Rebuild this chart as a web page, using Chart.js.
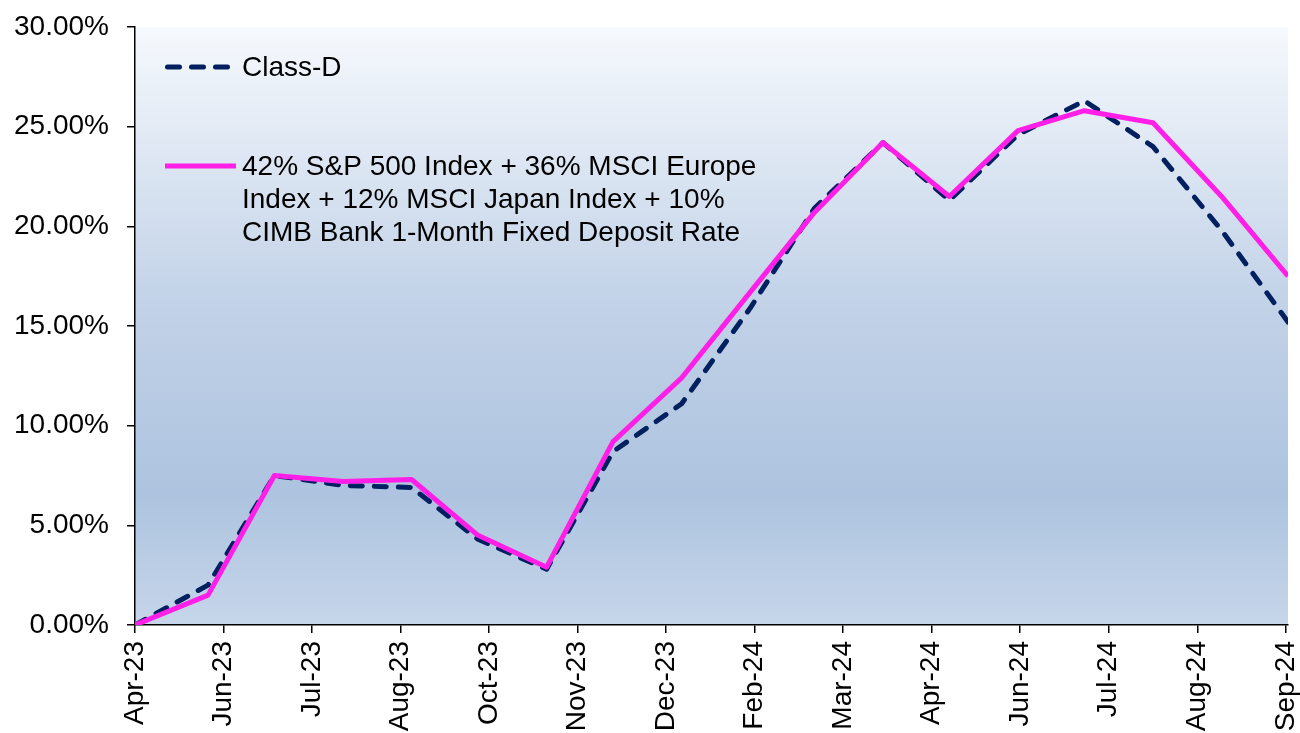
<!DOCTYPE html>
<html>
<head>
<meta charset="utf-8">
<script src="https://cdn.jsdelivr.net/npm/chart.js@4.4.1/dist/chart.umd.min.js"></script>
<style>
  html, body { margin: 0; padding: 0; background: #fff; }
  #wrap { width: 1300px; height: 733px; }
</style>
</head>
<body>
<div id="wrap"><canvas id="chart" width="1300" height="733"></canvas></div>
<script>
// month-end valuation dates
const dates = [
  '2023-04-28', '2023-05-31', '2023-06-30', '2023-07-31', '2023-08-31', '2023-09-30',
  '2023-10-31', '2023-11-30', '2023-12-31', '2024-01-31', '2024-02-29', '2024-03-31',
  '2024-04-30', '2024-05-31', '2024-06-30', '2024-07-31', '2024-08-31', '2024-09-30'
];

// cumulative return, %
const classD = [0, 2.0, 7.5, 7.0, 6.9, 4.3, 2.8, 8.7, 11.1, 15.9, 20.9, 24.2, 21.3, 24.6, 26.3, 24.0, 19.8, 15.2];
const benchmark = [0, 1.5, 7.5, 7.2, 7.3, 4.5, 2.9, 9.2, 12.4, 16.7, 20.7, 24.2, 21.5, 24.8, 25.8, 25.2, 21.5, 17.5];

// excel date axis: tick every 40 days from start
const tickLabels = ['Apr-23', 'Jun-23', 'Jul-23', 'Aug-23', 'Oct-23', 'Nov-23', 'Dec-23',
  'Feb-24', 'Mar-24', 'Apr-24', 'Jun-24', 'Jul-24', 'Aug-24', 'Sep-24'];
const tickStepDays = 40;

const seriesNames = [
  'Class-D',
  '42% S&P 500 Index + 36% MSCI Europe\nIndex + 12% MSCI Japan Index + 10%\nCIMB Bank 1-Month Fixed Deposit Rate'
];

const FONT = '"Liberation Sans", Arial, sans-serif';
const DAY = 86400000;
const t0 = Date.parse(dates[0]);
const dayOf = d => Math.round((Date.parse(d) - t0) / DAY);

const toPoints = vals => vals.map((v, i) => ({ x: dayOf(dates[i]), y: v }));

// plot area gradient like excel fill
const bgPlugin = {
  id: 'bg',
  beforeDraw(chart) {
    const { ctx, chartArea: a } = chart;
    const g = ctx.createLinearGradient(0, a.top, 0, a.bottom);
    g.addColorStop(0, '#f6f9fd');
    g.addColorStop(0.45, '#c3d3e8');
    g.addColorStop(0.78, '#adc3df');
    g.addColorStop(1, '#c6d6ea');
    ctx.save();
    ctx.fillStyle = g;
    ctx.fillRect(a.left, a.top, a.right - a.left, a.bottom - a.top);
    ctx.restore();
  }
};

// legend drawn inside the plot
const legendPlugin = {
  id: 'innerLegend',
  afterDatasetsDraw(chart) {
    const { ctx } = chart;
    const x0 = 165, sw = 71, tx = 242, lh = 33;
    const rows = [
      { y: 67, color: '#002060', dash: [12, 12], text: seriesNames[0] },
      { y: 166, color: '#ff1fe6', dash: [], text: seriesNames[1] }
    ];
    ctx.save();
    ctx.font = '28px ' + FONT;
    ctx.textBaseline = 'middle';
    ctx.fillStyle = '#000';
    rows.forEach(r => {
      ctx.beginPath();
      ctx.setLineDash(r.dash);
      ctx.lineWidth = 5;
      ctx.lineCap = r.dash.length ? 'round' : 'butt';
      ctx.strokeStyle = r.color;
      ctx.moveTo(x0 + (r.dash.length ? 2.5 : 0), r.y);
      ctx.lineTo(x0 + sw - (r.dash.length ? 6 : 0), r.y);
      ctx.stroke();
      ctx.setLineDash([]);
      r.text.split('\n').forEach((line, k) => ctx.fillText(line, tx, r.y + 1 + k * lh));
    });
    ctx.restore();
  }
};

new Chart(document.getElementById('chart'), {
  type: 'line',
  data: {
    datasets: [
      {
        label: seriesNames[0],
        data: toPoints(classD),
        borderColor: '#002060',
        borderWidth: 5,
        borderDash: [12, 12],
        borderCapStyle: 'round',
        borderJoinStyle: 'round',
        pointRadius: 0,
        tension: 0,
        order: 2
      },
      {
        label: seriesNames[1],
        data: toPoints(benchmark),
        borderColor: '#ff1fe6',
        borderWidth: 5,
        borderJoinStyle: 'round',
        pointRadius: 0,
        tension: 0,
        order: 1
      }
    ]
  },
  options: {
    responsive: false,
    animation: false,
    layout: { padding: { top: 27, right: 12, left: 0, bottom: 0 } },
    plugins: {
      legend: { display: false },
      tooltip: { enabled: false }
    },
    scales: {
      x: {
        type: 'linear',
        min: 0,
        max: dayOf(dates[dates.length - 1]),
        afterBuildTicks(scale) {
          scale.ticks = tickLabels.map((_, i) => ({ value: i * tickStepDays }));
        },
        afterFit(scale) {
          scale.height = 108;
          scale.paddingLeft = 0;
          scale.paddingRight = 0;
        },
        ticks: {
          autoSkip: false,
          minRotation: 90,
          maxRotation: 90,
          padding: 8,
          color: '#000',
          font: { family: FONT, size: 28 },
          callback: (v, i) => tickLabels[i]
        },
        grid: { drawOnChartArea: false, drawTicks: true, tickLength: 8, color: '#000', lineWidth: 1.5 },
        border: { display: true, color: '#000', width: 1.5 }
      },
      y: {
        min: 0,
        max: 30,
        afterFit(scale) {
          scale.width = 135;
          scale.paddingTop = 0;
          scale.paddingBottom = 0;
        },
        ticks: {
          stepSize: 5,
          padding: 18,
          color: '#000',
          font: { family: FONT, size: 28 },
          callback: v => v.toFixed(2) + '%'
        },
        grid: { drawOnChartArea: false, drawTicks: true, tickLength: 8, color: '#000', lineWidth: 1.5 },
        border: { display: true, color: '#000', width: 1.5 }
      }
    }
  },
  plugins: [bgPlugin, legendPlugin]
});
</script>
</body>
</html>
